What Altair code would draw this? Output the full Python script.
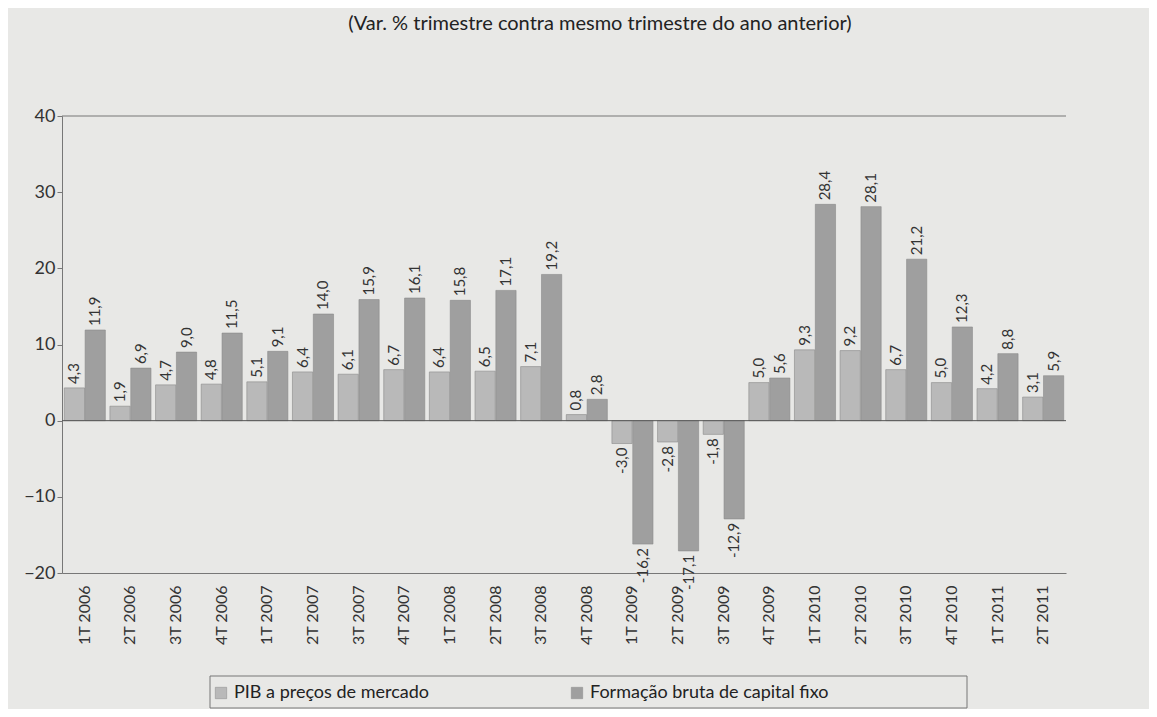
import altair as alt
import pandas as pd

quarters = ["1T 2006", "2T 2006", "3T 2006", "4T 2006", "1T 2007", "2T 2007", "3T 2007", "4T 2007",
            "1T 2008", "2T 2008", "3T 2008", "4T 2008", "1T 2009", "2T 2009", "3T 2009", "4T 2009",
            "1T 2010", "2T 2010", "3T 2010", "4T 2010", "1T 2011", "2T 2011"]
pib = [4.3, 1.9, 4.7, 4.8, 5.1, 6.4, 6.1, 6.7, 6.4, 6.5, 7.1, 0.8, -3.0, -2.8, -1.8, 5.0,
       9.3, 9.2, 6.7, 5.0, 4.2, 3.1]
fbcf = [11.9, 6.9, 9.0, 11.5, 9.1, 14.0, 15.9, 16.1, 15.8, 17.1, 19.2, 2.8, -16.2, -17.1, -12.9, 5.6,
        28.4, 28.1, 21.2, 12.3, 8.8, 5.9]
series = ["PIB a preços de mercado", "Formação bruta de capital fixo"]
colors = ["#b9b9b9", "#9f9f9f"]
title_text = "(Var. % trimestre contra mesmo trimestre do ano anterior)"

rows = []
for q, a, b in zip(quarters, pib, fbcf):
    for s, v in zip(series, [a, b]):
        rows.append({"q": q, "s": s, "v": v, "lab": f"{v:.1f}".replace(".", ",")})
df = pd.DataFrame(rows)

FONT = "Lato"
base = alt.Chart(df)

x = alt.X("q:N", sort=quarters, title=None,
          scale=alt.Scale(paddingInner=0.1, paddingOuter=0.05),
          axis=alt.Axis(orient="bottom", labelAngle=270, labelFontSize=16, labelPadding=12,
                        ticks=False, domainColor="#777", labelColor="#333", labelFont=FONT))
y = alt.Y("v:Q", title=None,
          scale=alt.Scale(domain=[-20, 40], nice=False),
          axis=alt.Axis(values=[-20, -10, 0, 10, 20, 30, 40], grid=False, labelFontSize=18,
                        labelFont=FONT, labelColor="#333", tickSize=5, tickColor="#777",
                        domainColor="#777", labelPadding=2))
xo = alt.XOffset("s:N", sort=series, scale=alt.Scale(paddingInner=0.03))
color = alt.Color("s:N", sort=series, scale=alt.Scale(domain=series, range=colors),
                  legend=alt.Legend(title=None, orient="none", legendX=150, legendY=568,
                                    direction="horizontal", labelFontSize=18, labelFont=FONT,
                                    labelColor="#222", symbolType="square", symbolSize=130,
                                    symbolStrokeColor="#888", symbolStrokeWidth=0.5,
                                    columnPadding=139, labelLimit=400))

bars = base.mark_bar(stroke="#8a8a8a", strokeWidth=0.6).encode(x=x, xOffset=xo, y=y, color=color)

pos_text = base.transform_filter("datum.v >= 0").mark_text(
    angle=270, align="left", baseline="middle", dx=4, fontSize=15, font=FONT, color="#333"
).encode(x=x, xOffset=xo, y=y, text="lab:N")
neg_text = base.transform_filter("datum.v < 0").mark_text(
    angle=270, align="right", baseline="middle", dx=-4, fontSize=15, font=FONT, color="#333"
).encode(x=x, xOffset=xo, y=y, text="lab:N")

frame = alt.Chart(alt.Data(values=[{}]))
top_rule = frame.mark_rule(color="#777", strokeWidth=1).encode(y=alt.datum(40))
zero_rule = frame.mark_rule(color="#555", strokeWidth=1).encode(y=alt.datum(0))
legend_box = frame.mark_rect(fill=None, stroke="#777", strokeWidth=1).encode(
    x=alt.value(148), x2=alt.value(905), y=alt.value(560), y2=alt.value(592))
title = frame.mark_text(text=title_text, fontSize=20, font=FONT, color="#222",
                        align="center", baseline="alphabetic").encode(
    x=alt.value(538), y=alt.value(-86))

chart = alt.layer(bars, zero_rule, top_rule, pos_text, neg_text, legend_box, title).properties(
    width=1004, height=457,
    autosize=alt.AutoSizeParams(type="none"),
    padding={"left": 54, "top": 108, "right": 83, "bottom": 136},
    background="#e8e8e6",
).configure_view(stroke=None)

chart.save("out.html", embed_options={"renderer": "svg", "actions": False})
